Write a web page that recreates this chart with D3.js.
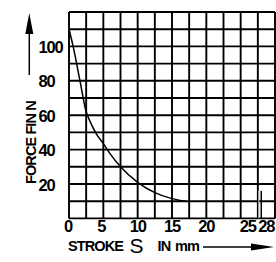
<!DOCTYPE html>
<html>
<head>
<meta charset="utf-8">
<script src="https://cdn.jsdelivr.net/npm/d3@7"></script>
<style>
html,body{margin:0;padding:0;background:#fff;}
svg{display:block;}
text{font-family:"Liberation Sans",Arial,sans-serif;fill:#000;}
</style>
</head>
<body>
<script>
// ---- data ----
const strokeMm = [0, 0.6, 1.6, 2.5, 3, 4, 5, 6, 7.5, 10, 12.5, 15, 17];
const forceN   = [110, 100, 80, 62, 57, 49, 43.5, 37.5, 30, 21, 15, 11.5, 10];
const xTicks = [0, 5, 10, 15, 20, 25, 28];
const yTicks = [20, 40, 60, 80, 100];
const xGrid = d3.range(0, 30.01, 2.5);
const yGrid = d3.range(0, 120.01, 10);
const markerX = [28];
const markerTop = [16];

const W = 276, H = 262;
const svg = d3.select("body").append("svg").attr("width", W).attr("height", H);

const x = d3.scaleLinear().domain([0, 30]).range([69, 275]);
const y = d3.scaleLinear().domain([0, 120]).range([218.4, 12]);

// grid
const g = svg.append("g");
g.selectAll("line.v").data(xGrid).join("line")
  .attr("x1", d => x(d)).attr("x2", d => x(d))
  .attr("y1", y(0)).attr("y2", y(120))
  .attr("stroke", "#000").attr("stroke-width", 1.9);
g.selectAll("line.h").data(yGrid).join("line")
  .attr("y1", d => y(d)).attr("y2", d => y(d))
  .attr("x1", x(0)).attr("x2", x(30))
  .attr("stroke", "#000").attr("stroke-width", 1.9);

// curve
const pts = strokeMm.map((s, i) => [s, forceN[i]]);
svg.append("path").datum(pts)
  .attr("d", d3.line().x(d => x(d[0])).y(d => y(d[1])).curve(d3.curveMonotoneX))
  .attr("fill", "none").attr("stroke", "#000").attr("stroke-width", 1.5);

// marker at 28
svg.selectAll("line.mk").data(markerX).join("line")
  .attr("x1", d => x(d) - 2.5).attr("x2", d => x(d) - 2.5)
  .attr("y1", y(markerTop[0])).attr("y2", y(0))
  .attr("stroke", "#bbb").attr("stroke-width", 1);
svg.selectAll("line.mk2").data(markerX).join("line")
  .attr("x1", d => x(d)).attr("x2", d => x(d))
  .attr("y1", y(markerTop[0])).attr("y2", y(0))
  .attr("stroke", "#000").attr("stroke-width", 1.5);

// y tick labels (left aligned)
svg.selectAll("text.yt").data(yTicks).join("text")
  .attr("x", 38.5).attr("y", d => y(d) + 6.5)
  .attr("font-size", 16.5).attr("font-weight", "bold").attr("letter-spacing", -1.2)
  .text(d => d);

// x tick labels
const xAdj = {0: -1, 5: -2, 25: 7, 28: 5};
svg.selectAll("text.xt").data(xTicks).join("text")
  .attr("x", d => x(d) + (xAdj[d] || 0)).attr("y", 231.5)
  .attr("text-anchor", "middle")
  .attr("font-size", 16.5).attr("font-weight", "bold").attr("letter-spacing", -1.2)
  .text(d => d);

// y axis title
const yt = svg.append("text")
  .attr("transform", "translate(36,184) rotate(-90)")
  .attr("font-size", 14.5).attr("font-weight", "bold").attr("letter-spacing", -0.9);
yt.append("tspan").text("FORCE ");
yt.append("tspan").text("F");
yt.append("tspan").text("IN N");

// y arrow
svg.append("line").attr("x1", 29.3).attr("x2", 29.3).attr("y1", 75).attr("y2", 30)
  .attr("stroke", "#000").attr("stroke-width", 1.5);
svg.append("path").attr("d", "M29.3,13 L33.3,34 L25.3,34 Z").attr("fill", "#000");

// x axis title
svg.append("text").attr("x", 68).attr("y", 251)
  .attr("font-size", 14.5).attr("font-weight", "bold").attr("letter-spacing", -0.9)
  .text("STROKE");
svg.append("text").attr("x", 129.5).attr("y", 253).attr("font-size", 21)
  .attr("font-family", "DejaVu Sans ExtraLight, Liberation Sans").text("S");
svg.append("text").attr("x", 157.5).attr("y", 251).attr("font-size", 14.5)
  .attr("font-weight", "bold").attr("letter-spacing", -0.9).text("IN");
svg.append("text").attr("x", 175).attr("y", 251).attr("font-size", 14.5)
  .attr("font-weight", "bold").attr("letter-spacing", -0.9).text("mm");

// x arrow
svg.append("line").attr("x1", 203).attr("x2", 255).attr("y1", 247).attr("y2", 247)
  .attr("stroke", "#000").attr("stroke-width", 1.5);
svg.append("path").attr("d", "M274,247 L251,243.5 L251,250.5 Z").attr("fill", "#000");
</script>
</body>
</html>
